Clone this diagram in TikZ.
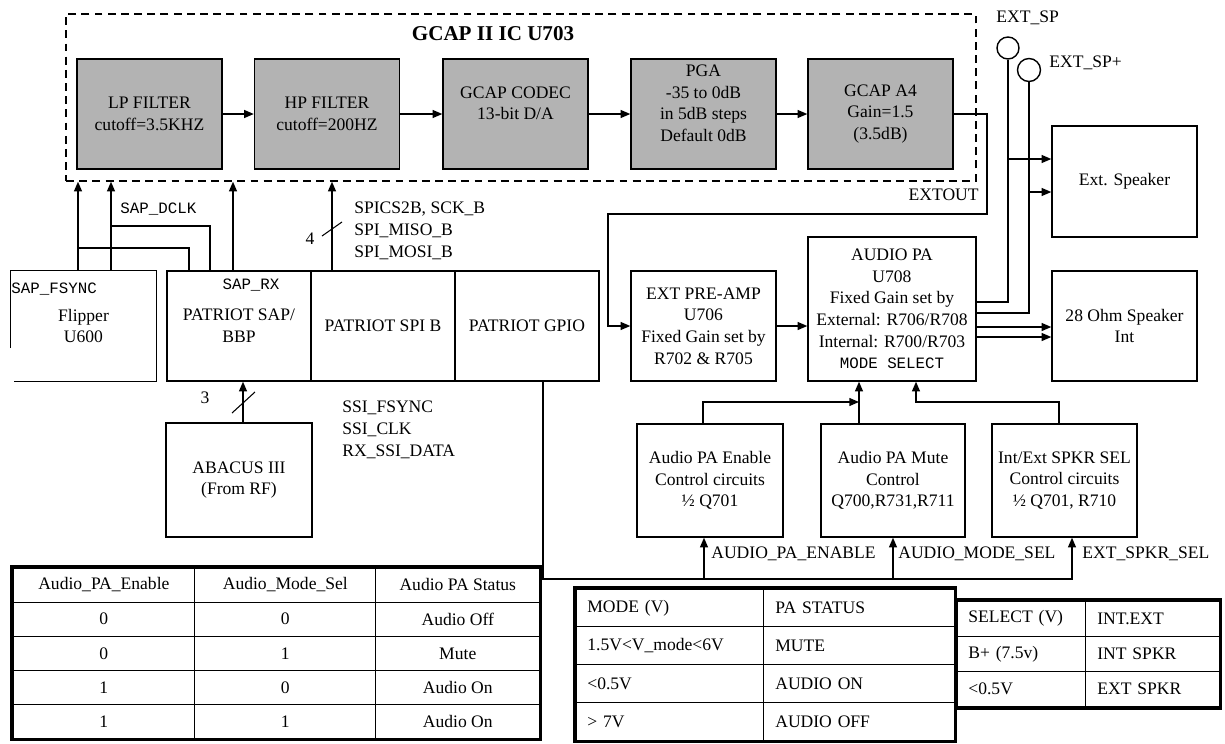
\documentclass[tikz,border=0pt]{standalone}
\usepackage{fontspec}
\setmainfont{Liberation Serif}
\setmonofont{Liberation Mono}
\usetikzlibrary{positioning, arrows.meta, matrix, calc}
\definecolor{gcapgray}{HTML}{B3B3B3}

\begin{document}
\begin{tikzpicture}[
    x=0.02cm, y=-0.02cm,
    every node/.style={font=\fontsize{10}{12.3}\selectfont},
    blk/.style={draw, line width=0.8pt, align=center, inner sep=1pt, minimum width=2.9cm, minimum height=2.2cm},
    gblk/.style={blk, fill=gcapgray},
    wire/.style={line width=0.8pt},
    sig/.style={wire, -{Triangle[length=5.5pt,width=4.5pt]}},
    lbl/.style={inner sep=0pt, align=left},
    mono/.style={inner sep=0pt, font=\fontsize{9}{10}\selectfont\ttfamily},
    buswidth/.style={line width=0.6pt},
    tbl/.style={matrix of nodes, inner sep=0pt, column sep=-0.6pt, row sep=-0.6pt,
      nodes={draw, line width=0.6pt, anchor=center, inner sep=1pt}},
    tblframe/.style={line width=2pt},
  ]
  \useasboundingbox (0,0) rectangle (1225,744);

  % GCAP II block
  \node[draw, line width=0.8pt, dash pattern=on 4.5pt off 3pt, minimum width=18.2cm,
        minimum height=3.34cm, inner sep=0pt] (gcapic) at (521,97.5) {};
  \node[lbl, font=\fontsize{12}{14}\selectfont\bfseries] (gcaptitle) at (493,34) {GCAP II IC U703};

  \node[gblk] (lpf) at (149.5,114) {LP FILTER\\cutoff=3.5KHZ};
  \node[gblk] (hpf) at (327,114) {HP FILTER\\cutoff=200HZ};
  \node[gblk] (codec) at (515.5,114) {GCAP CODEC\\13-bit D/A\\~};
  \node[gblk] (pga) at (703.5,114) {PGA\\-35 to 0dB\\in 5dB steps\\Default 0dB\\~};
  \node[gblk] (gcapa4) at (880.5,114) {GCAP A4\\Gain=1.5\\(3.5dB)};

  \draw[sig] (lpf) -- (hpf);
  \draw[sig] (hpf) -- (codec);
  \draw[sig] (codec) -- (pga);
  \draw[sig] (pga) -- (gcapa4);

  % processor side
  \node[blk, draw=none] (flipper) at (83.5,326) {Flipper\\U600};
  \draw[wire] (flipper.west |- 0,348) -- (flipper.north west) -- (flipper.north east)
    -- (flipper.south east) -- (14,0 |- flipper.south);
  \node[blk, minimum width=2.88cm] (sapbbp) at (239,326) {PATRIOT SAP/\\BBP};
  \node[blk, minimum width=2.88cm] (spib) at (383,326) {PATRIOT SPI B};
  \node[blk, minimum width=2.88cm] (gpio) at (527,326) {PATRIOT GPIO};
  \node[blk, minimum width=2.92cm, minimum height=2.28cm] (abacus) at (239,480) {ABACUS III\\(From RF)};

  \node[mono, anchor=west] (lblfsync) at (11,289) {SAP\_FSYNC};
  \node[mono] (lblrx) at (251,285) {SAP\_RX};
  \node[mono, anchor=west] (lbldclk) at (120,209) {SAP\_DCLK};
  \node[lbl, anchor=north west] (lblspi) at (354,202) {SPICS2B, SCK\_B\\SPI\_MISO\_B\\SPI\_MOSI\_B};
  \node[lbl] (lblfour) at (310,239) {4};
  \node[lbl] (lblthree) at (205,398) {3};
  \node[lbl, anchor=north west] (lblssi) at (342,401) {SSI\_FSYNC\\SSI\_CLK\\RX\_SSI\_DATA};

  \draw[sig] (78,0 |- flipper.north) -- (78,0 |- gcapic.south);
  \draw[sig] (111,0 |- flipper.north) -- (111,0 |- gcapic.south);
  \draw[wire] (78,248) -| (189,0 |- sapbbp.north);
  \draw[wire] (111,226) -| (210,0 |- sapbbp.north);
  \draw[sig] (233,0 |- sapbbp.north) -- (233,0 |- gcapic.south);
  \draw[sig] (332,0 |- spib.north) -- (332,0 |- gcapic.south);
  \draw[buswidth] (322,236) -- (342,222);
  \draw[sig] (243,0 |- abacus.north) -- (243,0 |- sapbbp.south);
  \draw[buswidth] (232,413) -- (255,392);

  % audio path
  \node[blk] (preamp) at (703.5,326) {EXT PRE-AMP\\U706\\Fixed Gain set by\\R702 \& R705};
  \node[blk, minimum width=3.36cm, minimum height=2.88cm] (audiopa) at (892,309)
    {AUDIO PA\\U708\\Fixed Gain set by\\External: R706/R708\\Internal: R700/R703\\{\fontsize{9}{10}\selectfont\ttfamily MODE SELECT}};
  \node[blk, minimum height=2.22cm] (extspk) at (1124.5,181.5) {Ext. Speaker};
  \node[blk] (intspk) at (1124.5,326) {28 Ohm Speaker\\Int};

  \node[draw, circle, line width=0.8pt, minimum size=0.44cm, inner sep=0pt] (extsp) at (1008,48) {};
  \node[draw, circle, line width=0.8pt, minimum size=0.46cm, inner sep=0pt] (extspp) at (1029,70) {};
  \node[lbl, anchor=west] (lblextsp) at (996,18) {EXT\_SP};
  \node[lbl, anchor=west] (lblextspp) at (1049,63) {EXT\_SP+};
  \node[lbl, anchor=east] (lblextout) at (979,195) {EXTOUT};

  \draw[sig] (gcapa4.east) -| (987,214) -| (608,0 |- preamp.west) -- (preamp.west);
  \draw[sig] (preamp.east) -- (audiopa.west |- preamp.east);
  \draw[wire] (audiopa.east |- 0,302) -| (extsp.south);
  \draw[wire] (audiopa.east |- 0,313) -| (extspp.south);
  \draw[sig] (extsp |- 0,159) -- (extspk.west |- 0,159);
  \draw[sig] (extspp |- 0,192) -- (extspk.west |- 0,192);
  \draw[sig] (audiopa.east |- 0,327) -- (intspk.west |- 0,327);
  \draw[sig] (audiopa.east |- 0,337) -- (intspk.west |- 0,337);

  % control circuits
  \node[blk, minimum width=2.92cm, minimum height=2.26cm] (paen) at (710,480.5) {Audio PA Enable\\Control circuits\\½ Q701};
  \node[blk, minimum width=2.88cm, minimum height=2.26cm] (pamute) at (893,480.5) {Audio PA Mute\\Control\\Q700,R731,R711};
  \node[blk, minimum height=2.26cm] (spkrsel) at (1064.5,480.5) {Int/Ext SPKR SEL\\Control circuits\\½ Q701, R710};

  \draw[sig] (859,0 |- pamute.north) -- (859,0 |- audiopa.south);
  \draw[sig] (703,0 |- paen.north) |- (859,402);
  \draw[sig] (1059,0 |- spkrsel.north) |- (916,402) -- (916,0 |- audiopa.south);

  \draw[sig] (543,0 |- gpio.south) |- (1072,579) -- (1072,0 |- spkrsel.south);
  \draw[sig] (704,579) -- (704,0 |- paen.south);
  \draw[sig] (893,579) -- (pamute.south);
  \node[lbl, anchor=west] (lblen) at (711,554) {AUDIO\_PA\_ENABLE};
  \node[lbl, anchor=west] (lblmode) at (898,554) {AUDIO\_MODE\_SEL};
  \node[lbl, anchor=west] (lblsel) at (1082,554) {EXT\_SPKR\_SEL};

  % tables
  \matrix (tblstatus) [tbl, anchor=north west,
      nodes={minimum height=0.684cm},
      column 1/.style={nodes={minimum width=3.64cm}},
      column 2/.style={nodes={minimum width=3.62cm}},
      column 3/.style={nodes={minimum width=3.28cm}}] at (12,567) {
    Audio\_PA\_Enable & Audio\_Mode\_Sel & Audio PA Status \\
    0 & 0 & Audio Off \\
    0 & 1 & Mute \\
    1 & 0 & Audio On \\
    1 & 1 & Audio On \\
  };
  \draw[tblframe] (tblstatus.north west) rectangle (tblstatus.south east);

  \matrix (tblmode) [tbl, anchor=north west,
      nodes={minimum height=0.76cm, align=left, inner xsep=0.23cm},
      column 1/.style={nodes={text width=3.3cm}},
      column 2/.style={nodes={text width=3.36cm}}] at (575,588) {
    MODE (V) & PA STATUS \\
    1.5V<V\_mode<6V & MUTE \\
    <0.5V & AUDIO ON \\
    > 7V & AUDIO OFF \\
  };
  \draw[tblframe] (tblmode.north west) rectangle (tblmode.south east);

  \matrix (tblselect) [tbl, anchor=north west,
      nodes={minimum height=0.707cm, align=left, inner xsep=0.23cm},
      column 1/.style={nodes={text width=2.12cm}},
      column 2/.style={nodes={text width=2.22cm}}] at (956,600) {
    SELECT (V) & INT.EXT \\
    B+ (7.5v) & INT SPKR \\
    <0.5V & EXT SPKR \\
  };
  \draw[tblframe] (tblselect.north west) rectangle (tblselect.south east);
\end{tikzpicture}
\end{document}
